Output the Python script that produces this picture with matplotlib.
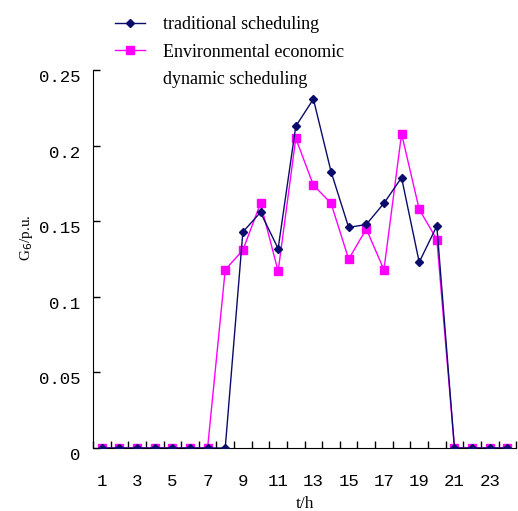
import numpy as np
import matplotlib.pyplot as plt
from matplotlib.lines import Line2D
from matplotlib.transforms import ScaledTranslation

hours = np.arange(1, 25)
traditional = [0, 0, 0, 0, 0, 0, 0, 0, 0.143, 0.156, 0.132, 0.213, 0.231, 0.183,
               0.146, 0.148, 0.162, 0.179, 0.123, 0.147, 0, 0, 0, 0]
environmental = [0, 0, 0, 0, 0, 0, 0, 0.118, 0.131, 0.162, 0.117, 0.205, 0.174, 0.162,
                 0.125, 0.145, 0.118, 0.208, 0.158, 0.138, 0, 0, 0, 0]
ytick_vals = [0, 0.05, 0.1, 0.15, 0.2, 0.25]
ytick_labels = ['0', '0.05', '0.1', '0.15', '0.2', '0.25']
xtick_vals = list(range(1, 24, 2))

navy = '#0b0b6b'
mag = '#ff00ff'
serif = 'Liberation Serif'
mono = 'Liberation Mono'

fig = plt.figure(figsize=(5.18, 5.11), dpi=100)
ax = fig.add_axes([0.1795, 0.1233, 0.817, 0.739])

ax.plot(hours, traditional, color=navy, lw=1.0, marker='D', ms=4.5,
        label='traditional scheduling', zorder=3)
ax.plot(hours, environmental, color=mag, lw=1.0, marker='s', ms=5.5,
        label='Environmental economic', zorder=2)

ax.set_xlim(0.5, 24.5)
ax.set_ylim(0, 0.25)
ax.spines['top'].set_visible(False)
ax.spines['right'].set_visible(False)

ax.set_xticks(xtick_vals)
ax.set_xticklabels([str(v) for v in xtick_vals], fontfamily=mono, fontsize=12.5)
ax.set_xticks(np.arange(0.5, 25, 1), minor=True)
ax.tick_params(axis='x', which='major', length=0, pad=19)
ax.tick_params(axis='x', which='minor', direction='in', length=5, width=1)

ax.set_yticks(ytick_vals)
ax.set_yticklabels(ytick_labels, fontfamily=mono, fontsize=12.5)
ax.tick_params(axis='y', direction='in', length=5, width=1, pad=9)
# labels sit a bit below their ticks in the original
shift = ScaledTranslation(0, -6 / 100, fig.dpi_scale_trans)
for lbl in ax.get_yticklabels():
    lbl.set_transform(lbl.get_transform() + shift)

ax.set_xlabel('t/h', fontfamily=serif, fontsize=12.5, labelpad=5)
ax.set_ylabel('G$_6$/p.u.', fontfamily=serif, fontsize=11)
ax.yaxis.set_label_coords(-0.138, 0.556)

handles = [Line2D([], [], color=navy, lw=1.0, marker='D', ms=4.5),
           Line2D([], [], color=mag, lw=1.0, marker='s', ms=5.5),
           Line2D([], [], linestyle='none')]
labels = ['traditional scheduling', 'Environmental economic', 'dynamic scheduling']
fig.legend(handles, labels, loc='upper left', bbox_to_anchor=(0.19, 1.0),
           frameon=False, prop={'family': serif, 'size': 13},
           handlelength=1.7, handletextpad=1.0, labelspacing=0.58)

fig.savefig('out.png', dpi=100)
